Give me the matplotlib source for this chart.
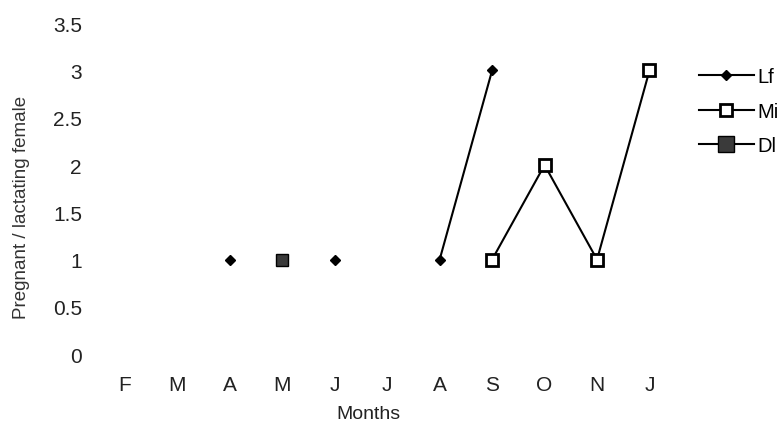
import numpy as np
import matplotlib
matplotlib.use("Agg")
import matplotlib.pyplot as plt

plt.rcParams['font.family'] = ['Liberation Sans', 'DejaVu Sans']

months = ["F", "M", "A", "M", "J", "J", "A", "S", "O", "N", "J"]
lf = [np.nan, np.nan, 1, np.nan, 1, np.nan, 1, 3, np.nan, np.nan, np.nan]
mi = [np.nan, np.nan, np.nan, np.nan, np.nan, np.nan, np.nan, 1, 2, 1, 3]
dl = [np.nan, np.nan, np.nan, 1, np.nan, np.nan, np.nan, np.nan, np.nan, 1, np.nan]
yticks = [0, 0.5, 1, 1.5, 2, 2.5, 3, 3.5]

fig = plt.figure(figsize=(7.83, 4.39), dpi=100)
ax = fig.add_axes([0.126, 0.191, 0.737, 0.754])

x = np.arange(len(months))
ax.plot(x, dl, color='black', lw=1.5, marker='s', markersize=9,
        markerfacecolor='#3a3a3a', markeredgecolor='black', label='Dl', zorder=2)
ax.plot(x, lf, color='black', lw=1.5, marker='D', markersize=5.5,
        markerfacecolor='black', markeredgecolor='black', label='Lf', zorder=3)
ax.plot(x, mi, color='black', lw=1.5, marker='s', markersize=9,
        markerfacecolor='white', markeredgecolor='black', markeredgewidth=2,
        label='Mi', zorder=4)

ax.set_xlim(-0.5, len(months) - 0.5)
ax.set_ylim(0, 3.5)
ax.set_xticks(x)
ax.set_xticklabels(months)
ax.set_yticks(yticks)
ax.set_yticklabels([f"{v:g}" for v in yticks])
ax.tick_params(axis='both', length=0, labelsize=15, colors='#222')
ax.tick_params(axis='y', pad=12)
ax.tick_params(axis='x', pad=15)
for s in ax.spines.values():
    s.set_visible(False)

fig.text(0.47, 0.055, "Months", fontsize=14, color='#222', ha='center', va='center')
fig.text(0.028, 0.528, "Pregnant / lactating female", fontsize=13.5, color='#333',
         rotation=90, ha='center', va='center')

handles, labels = ax.get_legend_handles_labels()
order = [1, 2, 0]
leg = fig.legend([handles[i] for i in order], [labels[i] for i in order],
                 loc='upper left', bbox_to_anchor=(0.893, 0.844), frameon=False,
                 fontsize=14.5, handlelength=2.7, handletextpad=0.2, labelspacing=0.75,
                 borderaxespad=0, borderpad=0)
leg.legend_handles[2].set_markersize(12)

fig.savefig('out.png', dpi=100)
